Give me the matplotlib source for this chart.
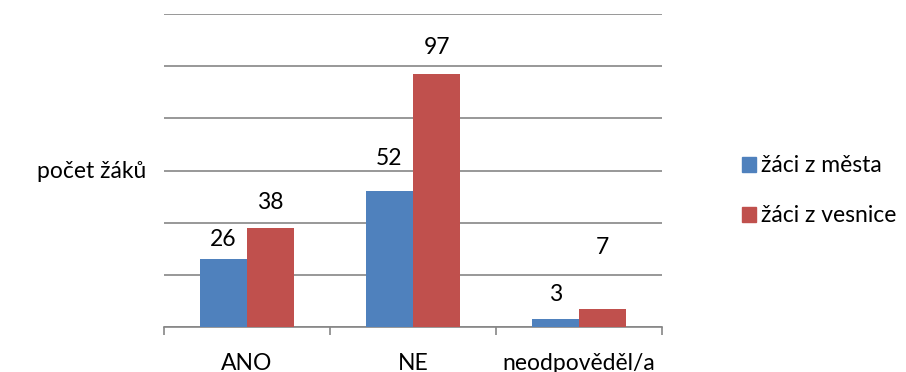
import matplotlib
matplotlib.use("Agg")
import matplotlib.pyplot as plt
import numpy as np
from matplotlib.patches import Rectangle

categories = ["ANO", "NE", "neodpověděl/a"]
series_names = ["žáci z města", "žáci z vesnice"]
mesto = [26, 52, 3]
vesnice = [38, 97, 7]
colors = ["#4F81BD", "#C0504D"]
# vertical offsets (points) for the value labels above each bar
label_offsets = [[14, 24, 18], [18, 19, 44]]

plt.rcParams["font.family"] = ["Lato", "DejaVu Sans"]
FS = 16.5

fig = plt.figure(figsize=(9.06, 3.72), dpi=100)
ax = fig.add_axes([164 / 906, 1 - 327 / 372, (662 - 164) / 906, (327 - 14) / 372])

x = np.arange(len(categories))
w = 0.286
grid_color = "#868686"

for i, (vals, col) in enumerate(zip([mesto, vesnice], colors)):
    pos = x + (i - 0.5) * w
    ax.bar(pos, vals, width=w, color=col, zorder=3, label=series_names[i])
    for p, v, off in zip(pos, vals, label_offsets[i]):
        ax.annotate(str(v), (p, v), xytext=(0, off), textcoords="offset points",
                    ha="center", va="center", fontsize=FS, color="#000000")

ax.set_xlim(-0.5, 2.5)
ax.set_ylim(0, 120)
ax.set_yticks(np.arange(0, 121, 20))
ax.yaxis.grid(True, color=grid_color, linewidth=1.2, zorder=0)
ax.tick_params(axis="y", length=0, labelleft=False)

ax.set_xticks(x)
ax.set_xticklabels(categories, fontsize=FS)
ax.tick_params(axis="x", length=0, pad=19)
# category separator ticks on the x axis
ax.set_xticks(np.arange(-0.5, 2.6, 1), minor=True)
ax.tick_params(axis="x", which="minor", length=6, color=grid_color, width=1.2)

for s in ["top", "right", "left"]:
    ax.spines[s].set_visible(False)
ax.spines["bottom"].set_color(grid_color)
ax.spines["bottom"].set_linewidth(1.2)

fig.text(37 / 906, 1 - 172 / 372, "počet žáků", fontsize=FS, va="center", ha="left")

# legend
for j, (name, col) in enumerate(zip(series_names, colors)):
    yc = 165 + j * 50
    fig.patches.append(Rectangle((742 / 906, 1 - (yc + 7) / 372), 14 / 906, 15 / 372,
                                 transform=fig.transFigure, color=col))
    fig.text(761 / 906, 1 - yc / 372, name, fontsize=FS, va="center", ha="left")

fig.savefig("out.png", dpi=100)
